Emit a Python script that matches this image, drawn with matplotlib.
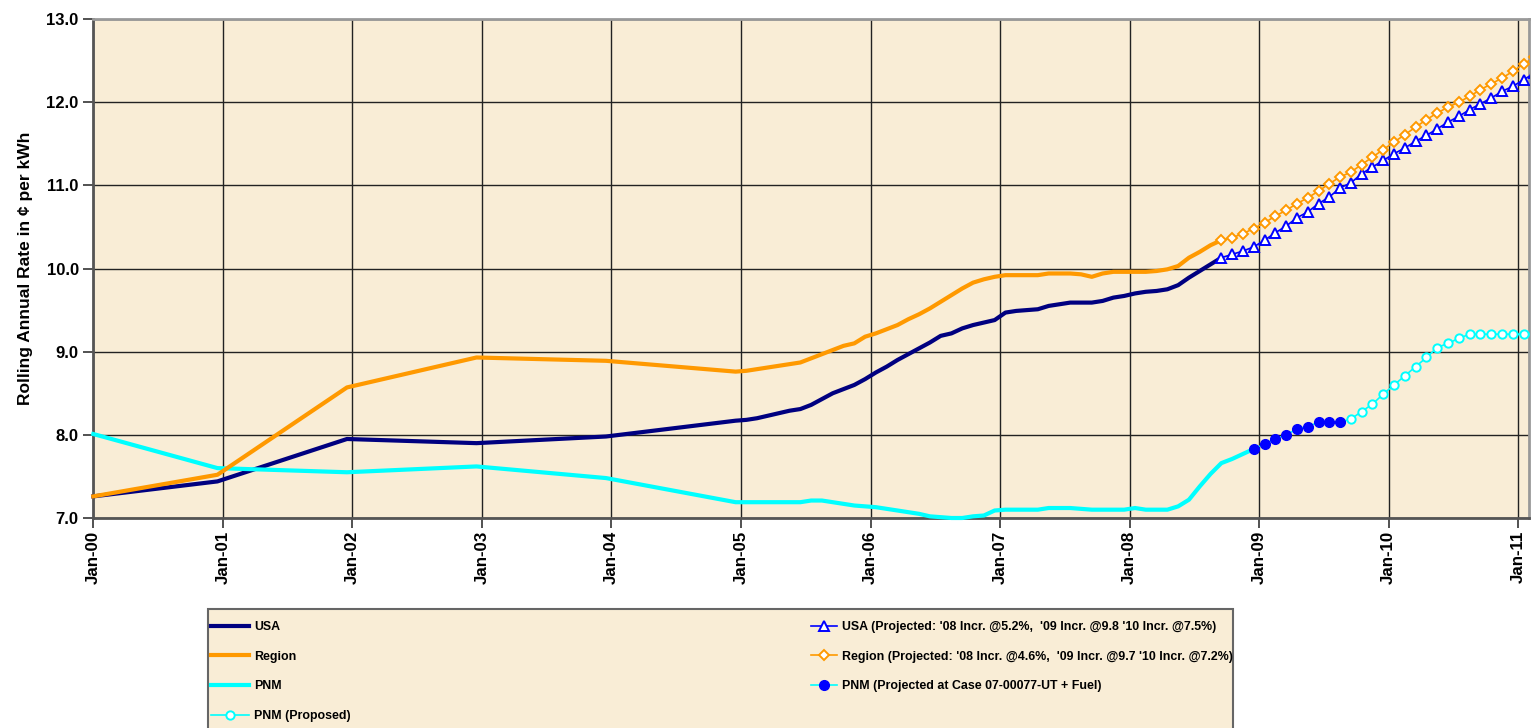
import matplotlib
matplotlib.use("Agg")
import matplotlib.pyplot as plt
from matplotlib.patches import Rectangle

plt.rcParams['font.family'] = ['Liberation Sans', 'DejaVu Sans']
plt.rcParams['font.weight'] = 'bold'

# x positions are months since Jan-2000 (data points sit mid-month)
hist_x = [0, 11.5, 23.5, 35.5, 47.5] + [59.5 + i for i in range(46)]

usa = [7.26, 7.44, 7.95, 7.90, 7.98,
       8.17, 8.18, 8.20, 8.23, 8.26, 8.29, 8.31, 8.36, 8.43, 8.50, 8.55, 8.60,
       8.67, 8.75, 8.82, 8.90, 8.97, 9.04, 9.11, 9.19, 9.22, 9.28, 9.32, 9.35,
       9.38, 9.47, 9.49, 9.50, 9.51, 9.55, 9.57, 9.59, 9.59, 9.59, 9.61, 9.65,
       9.67, 9.70, 9.72, 9.73, 9.75, 9.80, 9.89, 9.97, 10.05, 10.13]

region = [7.26, 7.52, 8.57, 8.93, 8.89,
          8.76, 8.77, 8.79, 8.81, 8.83, 8.85, 8.87, 8.92, 8.97, 9.02, 9.07, 9.10,
          9.18, 9.22, 9.27, 9.32, 9.39, 9.45, 9.52, 9.60, 9.68, 9.76, 9.83, 9.87,
          9.90, 9.92, 9.92, 9.92, 9.92, 9.94, 9.94, 9.94, 9.93, 9.90, 9.94, 9.96,
          9.96, 9.96, 9.96, 9.97, 9.99, 10.03, 10.13, 10.20, 10.28, 10.34]

pnm_x = hist_x + [105.5, 106.5, 107.5]
pnm = [8.01, 7.60, 7.55, 7.62, 7.48,
       7.19, 7.19, 7.19, 7.19, 7.19, 7.19, 7.19, 7.21, 7.21, 7.19, 7.17, 7.15,
       7.14, 7.13, 7.11, 7.09, 7.07, 7.05, 7.02, 7.01, 7.00, 7.00, 7.02, 7.03,
       7.09, 7.10, 7.10, 7.10, 7.10, 7.12, 7.12, 7.12, 7.11, 7.10, 7.10, 7.10,
       7.10, 7.12, 7.10, 7.10, 7.10, 7.14, 7.22, 7.38, 7.53, 7.66,
       7.71, 7.77, 7.83]

proj_x = [104.5 + i for i in range(30)]
usa_proj = [10.13, 10.17, 10.21, 10.26, 10.34, 10.43, 10.51, 10.61, 10.68, 10.78,
            10.86, 10.97, 11.03, 11.14, 11.22, 11.30, 11.38, 11.45, 11.53, 11.60,
            11.68, 11.76, 11.83, 11.91, 11.98, 12.05, 12.13, 12.19, 12.27, 12.35]
region_proj = [10.34, 10.37, 10.42, 10.48, 10.55, 10.63, 10.70, 10.78, 10.85, 10.93,
               11.02, 11.10, 11.16, 11.25, 11.34, 11.43, 11.52, 11.61, 11.70, 11.79,
               11.87, 11.94, 12.00, 12.07, 12.15, 12.22, 12.29, 12.37, 12.46, 12.54]

case_x = [107.5 + i for i in range(9)]
pnm_case = [7.83, 7.89, 7.95, 8.00, 8.07, 8.10, 8.15, 8.15, 8.15]

prop_x = [115.5 + i for i in range(19)]
pnm_prop = [8.15, 8.19, 8.28, 8.37, 8.49, 8.60, 8.71, 8.82, 8.93, 9.05,
            9.10, 9.16, 9.21, 9.21, 9.21, 9.21, 9.21, 9.21, 9.21]

tick_x = [12 * i for i in range(12)]
tick_labels = ['Jan-%02d' % i for i in range(12)]
y_ticks = [7, 8, 9, 10, 11, 12, 13]

bg = '#F9EDD6'

fig = plt.figure(figsize=(15.37, 7.28), dpi=100)
ax = fig.add_axes([93.3 / 1537, 210 / 728, (1529 - 93.3) / 1537, 499 / 728])
ax.set_facecolor(bg)

l_usa, = ax.plot(hist_x, usa, color='#000080', lw=3.0, zorder=4, clip_on=False)
l_reg, = ax.plot(hist_x, region, color='#FF9900', lw=3.0, zorder=5, clip_on=False)
l_pnm, = ax.plot(pnm_x, pnm, color='#00FFFF', lw=3.0, zorder=4, clip_on=False)
l_usap, = ax.plot(proj_x, usa_proj, color='#0000FF', lw=1.2, marker='^', ms=7.5,
                  mfc='white', mec='#0000FF', mew=1.4, zorder=6)
l_regp, = ax.plot(proj_x, region_proj, color='#FF9900', lw=1.2, marker='D', ms=5.5,
                  mfc='white', mec='#FF9900', mew=1.4, zorder=6)
l_prop, = ax.plot(prop_x, pnm_prop, color='#00FFFF', lw=1.2, marker='o', ms=6,
                  mfc='white', mec='#00FFFF', mew=1.4, zorder=6)
l_case, = ax.plot(case_x, pnm_case, color='#00FFFF', lw=1.2, marker='o', ms=7,
                  mfc='#0000FF', mec='#0000FF', zorder=7)

ax.set_xlim(0, 133)
ax.set_ylim(7.0, 13.0)
ax.set_yticks(y_ticks)
ax.set_yticklabels(['%.1f' % v for v in y_ticks], fontsize=12, weight='bold')
ax.set_xticks(tick_x)
ax.set_xticklabels(tick_labels, rotation=90, fontsize=12.2, weight='bold')
ax.tick_params(axis='both', direction='out', length=7, width=1.2, color='#333333')
ax.tick_params(axis='x', pad=2)
ax.grid(True, color='#222222', lw=1.0)
ax.set_axisbelow(True)
for s in ['left', 'bottom']:
    ax.spines[s].set_color('#555555')
    ax.spines[s].set_linewidth(2)
for s in ['top', 'right']:
    ax.spines[s].set_color('#999999')
    ax.spines[s].set_linewidth(2)
ax.set_ylabel('Rolling Annual Rate in ¢ per kWh', fontsize=12.5, weight='bold', labelpad=10)

# legend box
fig.patches.append(Rectangle((208 / 1537, -0.01), (1233 - 208) / 1537, (728 - 609) / 728 + 0.01,
                             transform=fig.transFigure, facecolor=bg,
                             edgecolor='#666666', lw=1.5, zorder=0))

lk = dict(frameon=False, loc='upper left', fontsize=8.9, labelspacing=1.43,
          handletextpad=0.4, borderaxespad=0, borderpad=0)
fig.legend([l_usa, l_reg, l_pnm, l_prop],
           ['USA', 'Region', 'PNM', 'PNM (Proposed)'],
           bbox_to_anchor=(211 / 1537, 1 - 621 / 728), handlelength=3.1, **lk)
fig.legend([l_usap, l_regp, l_case],
           ["USA (Projected: '08 Incr. @5.2%,  '09 Incr. @9.8 '10 Incr. @7.5%)",
            "Region (Projected: '08 Incr. @4.6%,  '09 Incr. @9.7 '10 Incr. @7.2%)",
            'PNM (Projected at Case 07-00077-UT + Fuel)'],
           bbox_to_anchor=(811 / 1537, 1 - 621 / 728), handlelength=2.1, **lk)

fig.savefig('out.png', dpi=100)
